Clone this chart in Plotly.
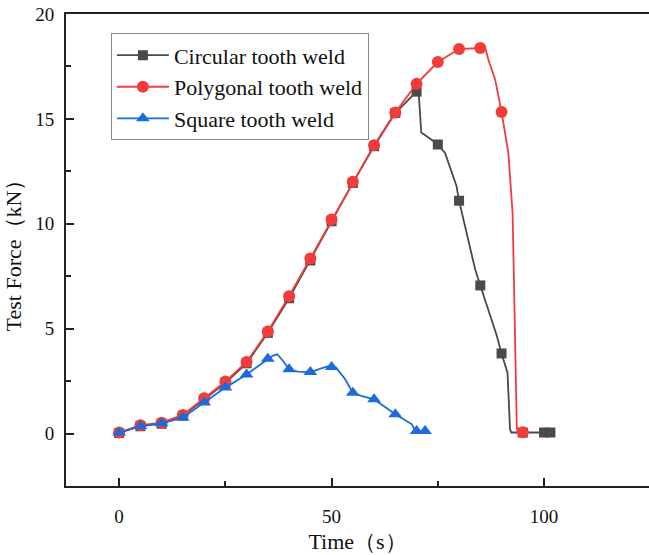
import plotly.graph_objects as go

# ---------------- data ----------------
# Circular tooth weld: marker points
circ_t = [0, 5, 10, 15, 20, 25, 30, 35, 40, 45, 50, 55, 60, 65, 70, 75, 80, 85, 90, 95, 100, 101.5]
circ_v = [0.03, 0.35, 0.47, 0.85, 1.62, 2.42, 3.35, 4.8, 6.45, 8.25, 10.12, 11.95, 13.7, 15.28,
          16.3, 13.78, 11.1, 7.06, 3.82, 0.05, 0.05, 0.05]
# Circular tooth weld: extra points of the recorded curve between markers
circ_xt = [70.5, 71.1, 73.2, 76.7, 79.4, 82.8, 83.8, 88.9, 91.4, 92.0, 92.3]
circ_xv = [16.25, 14.35, 14.05, 13.38, 11.8, 8.78, 7.82, 4.65, 2.9, 0.2, 0.05]

# Polygonal tooth weld
poly_t = [0, 5, 10, 15, 20, 25, 30, 35, 40, 45, 50, 55, 60, 65, 70, 75, 80, 85, 90, 95]
poly_v = [0.05, 0.40, 0.52, 0.89, 1.68, 2.48, 3.41, 4.87, 6.55, 8.35, 10.2, 12.0, 13.75, 15.31,
          16.67, 17.71, 18.33, 18.38, 15.33, 0.06]
poly_xt = [86.3, 86.9, 88.5, 91.6, 92.6, 93.0, 93.6, 94.0]
poly_xv = [18.3, 17.82, 16.87, 13.38, 10.5, 6.0, 0.2, 0.06]

# Square tooth weld
sq_t = [0, 5, 10, 15, 20, 25, 30, 35, 40, 45, 50, 55, 60, 65, 70, 72]
sq_v = [0.05, 0.36, 0.49, 0.76, 1.48, 2.19, 2.82, 3.57, 3.06, 2.93, 3.17, 1.95, 1.63, 0.92, 0.12, 0.12]
sq_xt = [36.2, 37.2, 38.6, 42.0, 47.0, 49.0, 51.0, 53.2, 57.0, 62.0, 68.9, 69.5]
sq_xv = [3.72, 3.78, 3.46, 2.95, 3.05, 3.2, 3.15, 2.59, 1.8, 1.35, 0.44, 0.2]

names = ["Circular tooth weld", "Polygonal tooth weld", "Square tooth weld"]
x_ticks = [0, 50, 100]
y_ticks = [0, 5, 10, 15, 20]

# ---------------- styling ----------------
colors = ["#4a4a4a", "#f23b3b", "#1c6bdb"]
symbols = ["square", "circle", "triangle-up"]
msizes = [10, 12, 12]
FONT = "Liberation Serif, Times New Roman, serif"


def merged(t, v, xt, xv):
    pts = sorted(list(zip(t, v)) + list(zip(xt, xv)))
    return [p[0] for p in pts], [p[1] for p in pts]


series = [
    (circ_t, circ_v, circ_xt, circ_xv),
    (poly_t, poly_v, poly_xt, poly_xv),
    (sq_t, sq_v, sq_xt, sq_xv),
]

fig = go.Figure()
for i, (t, v, xt, xv) in enumerate(series):
    lt, lv = merged(t, v, xt, xv)
    fig.add_trace(go.Scatter(x=lt, y=lv, mode="lines", showlegend=False,
                             line=dict(color=colors[i], width=1.8),
                             hoverinfo="skip"))
    fig.add_trace(go.Scatter(x=t, y=v, mode="markers", showlegend=False,
                             marker=dict(symbol=symbols[i], size=msizes[i], color=colors[i],
                                         line=dict(width=0)),
                             name=names[i]))
for i in range(3):
    fig.add_trace(go.Scatter(x=[None], y=[None], mode="lines+markers", name=names[i],
                             line=dict(color=colors[i], width=1.8),
                             marker=dict(symbol=symbols[i], size=msizes[i], color=colors[i],
                                         line=dict(width=0))))

axis_common = dict(
    showline=True, linecolor="#222222", linewidth=2,
    ticks="inside", ticklen=8, tickwidth=2, tickcolor="#222222",
    showgrid=False, zeroline=False,
    tickfont=dict(family=FONT, size=19, color="#111111"),
)

fig.update_xaxes(
    range=[-12.5, 124.7], tickvals=x_ticks, ticktext=[str(v) for v in x_ticks],
    mirror=True,
    minor=dict(ticks="inside", ticklen=5, tickwidth=2, tickcolor="#222222", dtick=25, tick0=0),
    title=dict(text="Time（s）", font=dict(family=FONT, size=22, color="#111111"), standoff=8),
    ticklabelstandoff=12,
    **axis_common,
)
fig.update_yaxes(
    range=[-2.5, 20.001], tickvals=y_ticks, ticktext=[str(v) for v in y_ticks],
    mirror=False,
    minor=dict(ticks="inside", ticklen=5, tickwidth=2, tickcolor="#222222", dtick=2.5, tick0=0),
    title=dict(text="Test Force（kN）", font=dict(family=FONT, size=22, color="#111111"), standoff=8),
    ticklabelstandoff=6,
    **axis_common,
)

fig.update_layout(
    width=649, height=555,
    margin=dict(l=66, r=0, t=14, b=69, autoexpand=False),
    paper_bgcolor="white", plot_bgcolor="white",
    legend=dict(x=0.077, y=0.959, xanchor="left", yanchor="top",
                bgcolor="white", bordercolor="#888888", borderwidth=1,
                font=dict(family=FONT, size=22, color="#111111"),
                itemwidth=52, tracegroupgap=0),
)

fig.write_html("out.html")
